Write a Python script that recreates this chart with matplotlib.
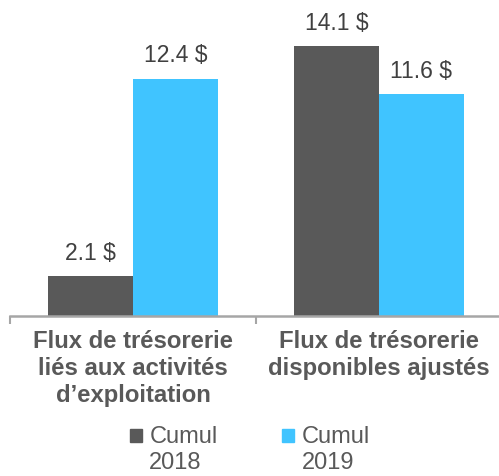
import numpy as np
import matplotlib.pyplot as plt
from matplotlib.lines import Line2D
from matplotlib.markers import MarkerStyle
from matplotlib.transforms import Affine2D

plt.rcParams['font.family'] = ['Liberation Sans', 'DejaVu Sans']

# données
categories = ["Flux de trésorerie\nliés aux activités\nd\u2019exploitation",
              "Flux de trésorerie\ndisponibles ajustés"]
cumul_2018 = [2.1, 14.1]
cumul_2019 = [12.4, 11.6]
series_labels = ["Cumul\n2018", "Cumul\n2019"]
colors = ["#595959", "#40C4FF"]

fig = plt.figure(figsize=(4.99, 4.76), dpi=100)
ax = fig.add_axes([10 / 499, 160 / 476, 492 / 499, 316 / 476])

x = np.arange(len(categories))
w = 0.3455
bars1 = ax.bar(x - w / 2, cumul_2018, w, color=colors[0])
bars2 = ax.bar(x + w / 2, cumul_2019, w, color=colors[1])

for bars in (bars1, bars2):
    for b in bars:
        ax.annotate(f"{b.get_height():.1f} $", (b.get_x() + b.get_width() / 2, b.get_height()),
                    xytext=(0, 8), textcoords="offset points", ha="center", va="bottom",
                    fontsize=16.5, color="#404040")

ax.set_xlim(-0.5, 1.5)
ax.set_ylim(0, 16.5)
ax.set_yticks([])
for s in ("left", "right", "top"):
    ax.spines[s].set_visible(False)
ax.spines["bottom"].set_color("#A6A6A6")
ax.spines["bottom"].set_linewidth(1.8)

ax.set_xticks(x)
ax.set_xticklabels(categories, fontsize=17.2, fontweight="bold", color="#595959", linespacing=1.22)
ax.tick_params(axis="x", which="major", length=0, pad=10)
ax.set_xticks([-0.5, 0.5, 1.5], minor=True)
ax.tick_params(axis="x", which="minor", length=6, width=1.5, color="#A6A6A6")

# carré de légende aligné sur la première ligne
sq = MarkerStyle("s", transform=Affine2D().translate(0, 1.15))
handles = [Line2D([], [], marker=sq, linestyle="none", markersize=9, color=c) for c in colors]
fig.legend(handles, series_labels, loc="lower center", bbox_to_anchor=(0.5, -0.04), ncol=2,
           frameon=False, fontsize=17, labelcolor="#595959", handlelength=0.6,
           handletextpad=0.25, columnspacing=2.7)

fig.savefig("out.png", dpi=100)
